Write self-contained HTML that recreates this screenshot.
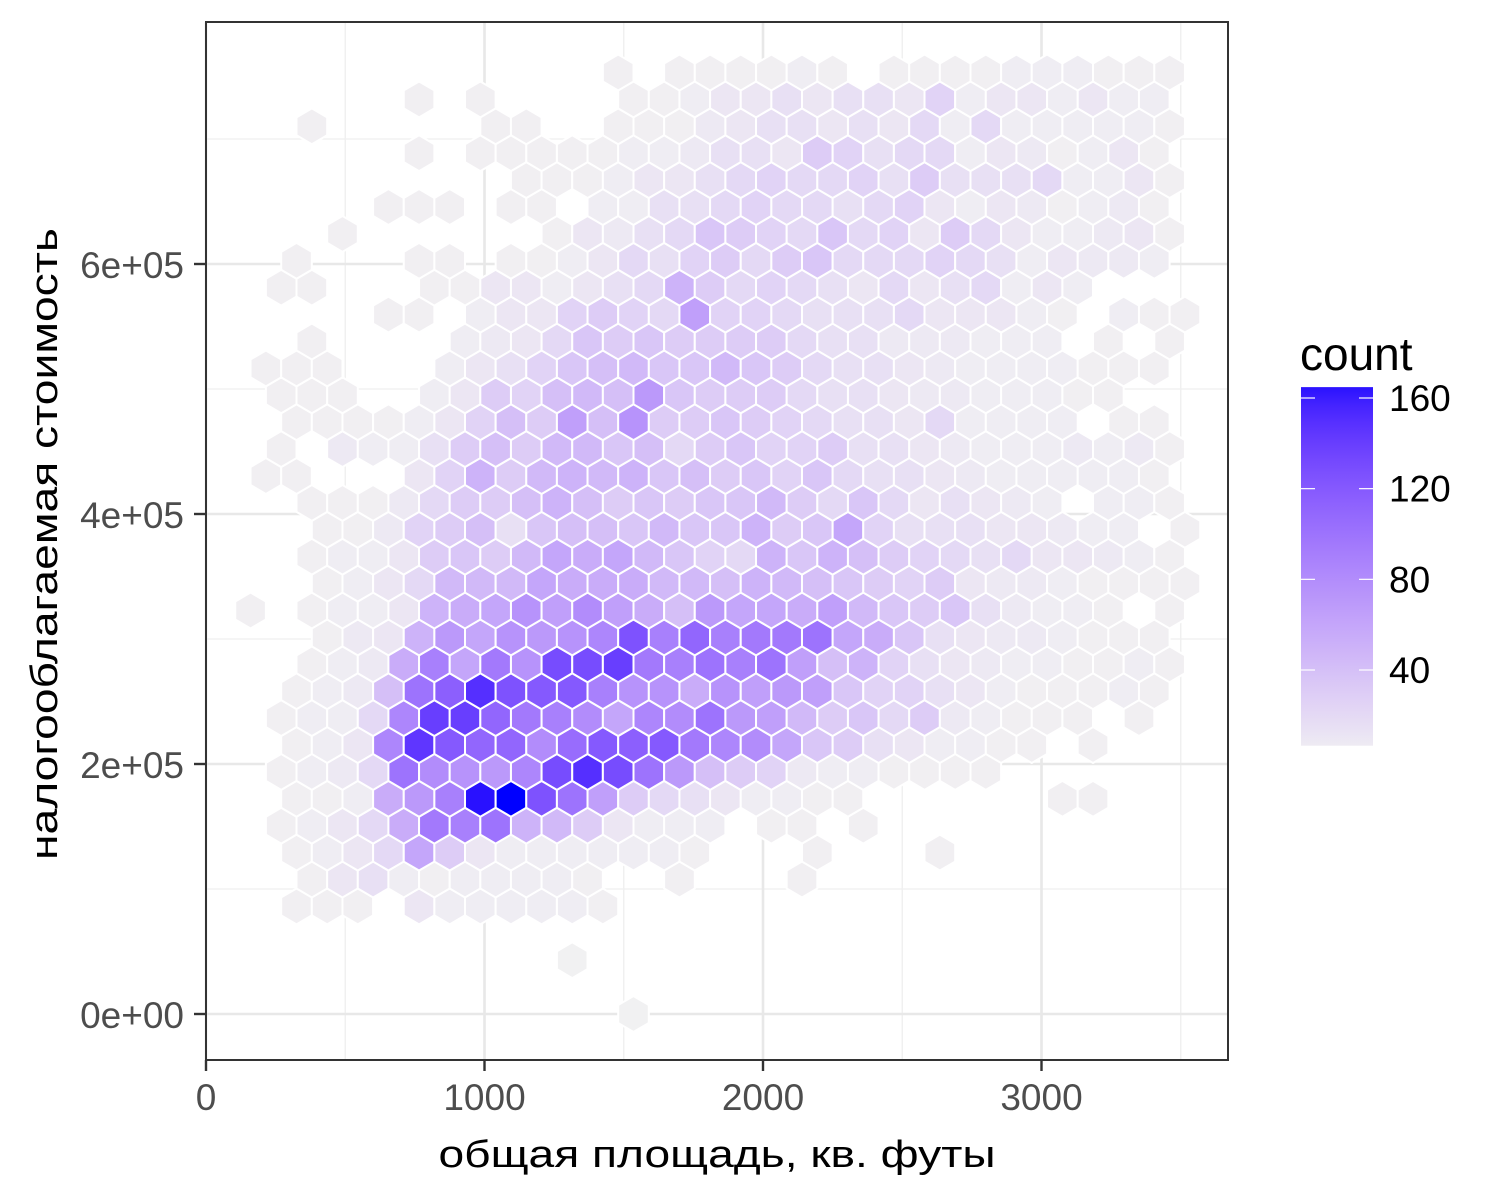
<!DOCTYPE html>
<html>
<head>
<meta charset="utf-8">
<style>
  html,body{margin:0;padding:0;background:#fff;}
  svg{display:block;}
  text{font-family:"Liberation Sans","DejaVu Sans",sans-serif;}
</style>
</head>
<body>
<svg id="chart" width="1500" height="1200" viewBox="0 0 1500 1200" xmlns="http://www.w3.org/2000/svg">
  <rect x="0" y="0" width="1500" height="1200" fill="#fff"/>
  <g id="grid"></g>
  <g id="hexes"></g>
  <rect x="206" y="22" width="1022" height="1038" fill="none" stroke="#333" stroke-width="2"/>
  <g id="axes"></g>
  <text x="717" y="1167" font-size="38" text-anchor="middle" textLength="557" lengthAdjust="spacingAndGlyphs" fill="#000">общая площадь, кв. футы</text>
  <text transform="translate(57,544) rotate(-90)" font-size="38" text-anchor="middle" textLength="632" lengthAdjust="spacingAndGlyphs" fill="#000">налогооблагаемая стоимость</text>
  <g id="legend">
    <text x="1300" y="370" font-size="46" fill="#000">count</text>
  </g>
</svg>
<script>
// ---- data ----
const xTicks = [0, 1000, 2000, 3000];
const xMinor = [500, 1500, 2500, 3500];
const yTicks = [0, 200000, 400000, 600000];
const yMinor = [100000, 300000, 500000, 700000];
const yTickLabels = ["0e+00", "2e+05", "4e+05", "6e+05"];
const xTickLabels = ["0", "1000", "2000", "3000"];
const legendTicks = [40, 80, 120, 160];
const legendTickLabels = ["40", "80", "120", "160"];
const countMin = 1;
const countMax = 170;
const legendLow = 6.6;
const legendHigh = 164.8;
// hex grid in data units
const binWidth = 110;       // sq ft
const binHeight = 21520;    // value per row
const gridX0 = -5;
const gridY0 = 0;

// counts per row, bottom row (j=0) first; index = column
const row00 = [0,0,0,0,0,0,0,0,0,0,0,0,0,0,2];
const row01 = [];
const row02 = [0,0,0,0,0,0,0,0,0,0,0,0,2];
const row03 = [];
const row04 = [0,0,0,3,3,3,0,10,5,5,5,5,5,3];
const row05 = [0,0,0,3,10,15,5,3,5,5,5,5,3,0,0,3,0,0,0,3];
const row06 = [0,0,0,3,5,10,20,60,30,10,5,5,5,5,5,5,3,0,0,0,3,0,0,0,3];
const row07 = [0,0,3,5,10,20,55,95,90,100,50,45,30,10,5,5,5,0,3,3,0,3];
const row08 = [0,0,0,3,3,5,55,70,90,165,170,125,100,65,30,20,15,10,5,5,3,3,0,0,0,0,0,0,3,3];
const row09 = [0,0,3,5,8,20,100,80,75,70,85,130,150,130,100,70,40,30,25,8,5,5,3,3,3,3];
const row10 = [0,0,0,3,5,10,85,145,120,110,110,80,105,120,115,120,95,85,80,60,35,30,15,10,5,5,3,3,0,3];
const row11 = [0,0,3,5,5,20,85,140,140,110,95,90,80,60,85,80,100,70,65,45,30,35,20,30,8,5,3,3,3,0,3];
const row12 = [0,0,0,3,5,8,40,100,115,150,125,120,120,90,75,75,55,75,65,70,65,35,25,25,15,10,5,3,3,3,5,3];
const row13 = [0,0,0,3,5,8,55,90,60,95,75,130,130,140,95,90,100,90,100,65,40,50,25,15,10,8,5,5,3,3,5,3];
const row14 = [0,0,0,0,3,8,10,50,70,60,75,70,75,85,125,90,110,90,95,95,100,60,55,35,15,10,8,8,5,3,3,3];
const row15 = [0,3,0,3,5,5,10,50,55,60,75,65,80,65,55,40,70,60,60,55,65,45,35,30,35,15,8,5,5,3,0,3];
const row16 = [0,0,0,0,3,5,10,20,45,45,45,60,55,55,55,45,45,40,50,45,40,35,30,25,30,10,8,8,5,3,3,3,3];
const row17 = [0,0,0,3,5,5,10,30,35,30,45,60,55,60,45,35,25,20,50,35,50,40,30,25,20,15,20,10,10,8,5,3];
const row18 = [0,0,0,0,3,3,8,25,30,40,15,35,40,40,35,45,35,35,50,30,35,60,25,15,15,15,10,10,8,5,5,0,3];
const row19 = [0,0,0,3,3,3,8,20,30,30,40,50,40,30,35,30,35,35,45,30,20,35,20,10,15,10,8,5,0,5,5,3];
const row20 = [0,0,3,3,0,0,0,10,25,50,30,45,50,45,50,35,40,30,35,25,35,20,15,15,10,8,5,5,5,5,5,3];
const row21 = [0,0,3,0,8,5,5,15,30,40,30,45,45,35,40,20,30,35,25,25,30,15,15,10,8,5,5,5,8,5,8,3];
const row22 = [0,0,0,3,3,3,3,5,10,25,40,30,65,40,75,30,30,35,30,25,20,15,15,10,20,5,5,5,5,0,3,3];
const row23 = [0,0,3,3,3,0,0,5,10,30,25,40,45,40,70,35,30,30,30,20,15,15,10,8,8,5,5,5,3,3];
const row24 = [0,0,3,3,3,0,0,0,5,10,15,25,35,40,45,35,35,45,35,30,20,15,15,10,8,5,5,5,5,3,3,3];
const row25 = [0,0,0,3,0,0,0,0,5,8,10,20,35,30,35,30,30,30,30,20,15,15,8,8,8,5,5,5,0,3,0,3];
const row26 = [0,0,0,0,0,0,3,3,0,5,10,10,25,30,25,20,65,25,25,20,15,15,15,20,10,10,10,5,3,0,5,3,3];
const row27 = [0,0,3,3,0,0,0,3,3,10,10,5,10,15,20,50,30,20,25,20,15,10,20,10,15,20,5,10,5];
const row28 = [0,0,0,3,0,0,0,3,3,0,3,3,5,10,20,15,25,30,20,30,35,20,20,20,25,20,15,5,10,8,8,5];
const row29 = [0,0,0,0,3,0,0,0,0,0,0,3,10,8,15,20,35,30,25,20,35,20,25,10,30,20,10,5,5,8,10,3];
const row30 = [0,0,0,0,0,0,3,3,3,0,3,3,0,5,5,15,15,20,25,20,20,15,20,25,10,5,10,8,3,5,8,3];
const row31 = [0,0,0,0,0,0,0,0,0,0,3,3,3,5,10,10,15,20,25,20,20,25,15,30,15,15,15,20,5,5,10,3];
const row32 = [0,0,0,0,0,0,0,3,0,3,3,3,3,3,5,5,8,15,15,10,30,25,15,20,20,5,10,8,3,5,10,3];
const row33 = [0,0,0,3,0,0,0,0,0,3,3,0,0,3,3,3,8,10,15,15,10,15,10,20,5,20,5,5,5,5,5,3];
const row34 = [0,0,0,0,0,0,0,3,0,3,0,0,0,0,3,3,5,10,10,15,10,15,15,10,25,5,10,10,5,10,5,5];
const row35 = [0,0,0,0,0,0,0,0,0,0,0,0,0,3,0,3,3,3,3,5,3,0,3,3,3,3,5,5,5,3,3,3];
const rows = [row00,row01,row02,row03,row04,row05,row06,row07,row08,row09,row10,row11,row12,row13,row14,row15,row16,row17,row18,row19,row20,row21,row22,row23,row24,row25,row26,row27,row28,row29,row30,row31,row32,row33,row34,row35];

// ---- scales ----
const panel = {left:206, top:22, right:1228, bottom:1060};
function xScale(v){ return 206 + v * 0.2785; }
function yScale(v){ return 1014 - v * 0.00125; }
function legendY(c){ return 398 + (160 - c) * (272 / 120); }

// Lab colour interpolation (grey95 -> blue)
function srgbToLin(c){ c/=255; return c<=0.04045? c/12.92 : Math.pow((c+0.055)/1.055,2.4); }
function linToSrgb(c){ c = c<=0.0031308? 12.92*c : 1.055*Math.pow(c,1/2.4)-0.055; return Math.max(0,Math.min(255,Math.round(c*255))); }
function rgbToLab(r,g,b){
  r=srgbToLin(r); g=srgbToLin(g); b=srgbToLin(b);
  let X=(0.4124*r+0.3576*g+0.1805*b)/0.95047, Y=(0.2126*r+0.7152*g+0.0722*b), Z=(0.0193*r+0.1192*g+0.9505*b)/1.08883;
  const f=t=> t>0.008856? Math.cbrt(t) : 7.787*t+16/116;
  const fx=f(X), fy=f(Y), fz=f(Z);
  return [116*fy-16, 500*(fx-fy), 200*(fy-fz)];
}
function labToRgb(L,a,b){
  const fy=(L+16)/116, fx=fy+a/500, fz=fy-b/200;
  const fi=t=> t*t*t>0.008856? t*t*t : (t-16/116)/7.787;
  let X=fi(fx)*0.95047, Y=fi(fy), Z=fi(fz)*1.08883;
  const r= 3.2406*X-1.5372*Y-0.4986*Z, g=-0.9689*X+1.8758*Y+0.0415*Z, bb=0.0557*X-0.2040*Y+1.0570*Z;
  return [linToSrgb(r),linToSrgb(g),linToSrgb(bb)];
}
const labLow = rgbToLab(242,242,242), labHigh = rgbToLab(0,0,255);
function colour(c){
  let t=(c-countMin)/(countMax-countMin); t=Math.max(0,Math.min(1,t));
  const L=labLow[0]+(labHigh[0]-labLow[0])*t, a=labLow[1]+(labHigh[1]-labLow[1])*t, b=labLow[2]+(labHigh[2]-labLow[2])*t;
  const rgb=labToRgb(L,a,b);
  return "rgb("+rgb.join(",")+")";
}

const NS="http://www.w3.org/2000/svg";
function mk(tag, attrs, parent){ const e=document.createElementNS(NS,tag); for(const k in attrs) e.setAttribute(k,attrs[k]); parent.appendChild(e); return e; }

// ---- grid ----
const grid=document.getElementById('grid');
xMinor.forEach(v=>{ const l=mk('line',{x1:xScale(v),x2:xScale(v),y1:panel.top,y2:panel.bottom,stroke:'#efefef','stroke-width':1.3},grid);
    });
yMinor.forEach(v=>{ const l=mk('line',{x1:panel.left,x2:panel.right,y1:yScale(v),y2:yScale(v),stroke:'#efefef','stroke-width':1.3},grid);
    });
xTicks.forEach(v=>{ const l=mk('line',{x1:xScale(v),x2:xScale(v),y1:panel.top,y2:panel.bottom,stroke:'#e8e8e8','stroke-width':2.6},grid);
    });
yTicks.forEach(v=>{ const l=mk('line',{x1:panel.left,x2:panel.right,y1:yScale(v),y2:yScale(v),stroke:'#e8e8e8','stroke-width':2.6},grid);
    });

// ---- hexes ----
const hexG=document.getElementById('hexes');
const hw = binWidth*0.2785/2;          // half width in px
const hr = binHeight*0.00125/1.5;      // vertex radius in px
rows.forEach((row,j)=>{
  row.forEach((cnt,c)=>{
    if(!cnt) return;
    const dx = gridX0 + binWidth*c + (j%2? binWidth/2 : 0);
    const dy = gridY0 + binHeight*j;
    const cx = xScale(dx), cy = yScale(dy);
    const pts=[[cx,cy-hr],[cx+hw,cy-hr/2],[cx+hw,cy+hr/2],[cx,cy+hr],[cx-hw,cy+hr/2],[cx-hw,cy-hr/2]].map(p=>p[0].toFixed(2)+","+p[1].toFixed(2)).join(" ");
    const h=mk('polygon',{points:pts,fill:colour(cnt),stroke:'#fff','stroke-width':2},hexG);
    
    
  });
});

// ---- axes ----
const axes=document.getElementById('axes');
xTicks.forEach((v,i)=>{
  const t=mk('line',{x1:xScale(v),x2:xScale(v),y1:1060,y2:1071,stroke:'#333','stroke-width':2.4},axes);
   
  const l=mk('text',{x:xScale(v),y:1110,'font-size':37,'text-anchor':'middle',fill:'#4d4d4d'},axes);
  l.textContent=xTickLabels[i];
   
});
yTicks.forEach((v,i)=>{
  const t=mk('line',{x1:194,x2:206,y1:yScale(v),y2:yScale(v),stroke:'#333','stroke-width':2.4},axes);
   
  const l=mk('text',{x:184,y:yScale(v)+14,'font-size':37,'text-anchor':'end',fill:'#4d4d4d'},axes);
  l.textContent=yTickLabels[i];
   
});

// ---- legend ----
const leg=document.getElementById('legend');
const defs=mk('defs',{},leg);
const grad=mk('linearGradient',{id:'lg',x1:0,y1:1,x2:0,y2:0},defs);
for(let k=0;k<=20;k++){
  const c=legendLow+(legendHigh-legendLow)*k/20;
  mk('stop',{offset:(k/20),'stop-color':colour(c)},grad);
}
const bar=mk('rect',{x:1301,y:legendY(legendHigh),width:72,height:legendY(legendLow)-legendY(legendHigh),fill:'url(#lg)'},leg);


legendTicks.forEach((v,i)=>{
  const y=legendY(v);
  const a=mk('line',{x1:1301,x2:1315,y1:y,y2:y,stroke:'#fff','stroke-width':1.2},leg);
   
  const b=mk('line',{x1:1359,x2:1373,y1:y,y2:y,stroke:'#fff','stroke-width':1.2},leg);
   
  const l=mk('text',{x:1389,y:y+13,'font-size':37,fill:'#000'},leg);
  l.textContent=legendTickLabels[i];
   
});
</script>
</body>
</html>
